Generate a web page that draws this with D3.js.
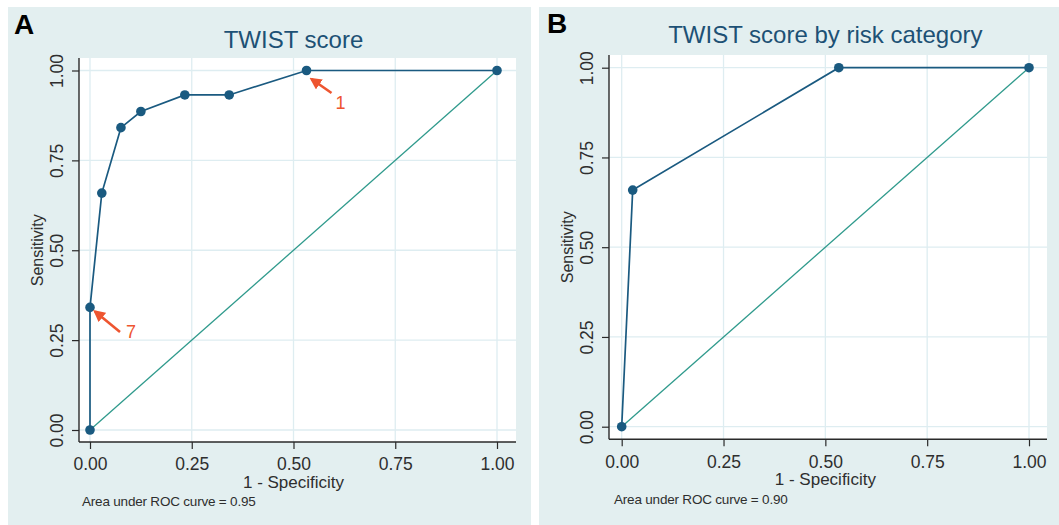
<!DOCTYPE html>
<html>
<head>
<meta charset="utf-8">
<script src="https://cdn.jsdelivr.net/npm/d3@7"></script>
<style>
  html, body { margin: 0; padding: 0; background: #ffffff; }
  svg { display: block; }
  text { font-family: "Liberation Sans", Arial, Helvetica, sans-serif; }
</style>
</head>
<body>
<svg id="chart" width="1059" height="525"></svg>
<script>
// ---------- data ----------
const panelLetters = ["A", "B"];
const titles = ["TWIST score", "TWIST score by risk category"];
const aucLabels = ["Area under ROC curve = 0.95", "Area under ROC curve = 0.90"];
const xAxisTitle = "1 - Specificity";
const yAxisTitle = "Sensitivity";
const tickValues = [0, 0.25, 0.5, 0.75, 1];
const tickLabels = ["0.00", "0.25", "0.50", "0.75", "1.00"];

// Panel A: TWIST score ROC (1 - specificity, sensitivity)
const fprA = [0, 0, 0.029, 0.076, 0.125, 0.233, 0.342, 0.532, 1];
const tprA = [0, 0.341, 0.659, 0.841, 0.886, 0.932, 0.932, 1, 1];
// Panel B: TWIST score by risk category
const fprB = [0, 0.027, 0.533, 1];
const tprB = [0, 0.659, 1, 1];
// Reference diagonal
const refLine = [0, 1];

// annotations in panel A: point index + label
const annotPointIndex = [7, 1];
const annotLabels = ["1", "7"];

// ---------- styles / layout ----------
const C = {
  panelBg: "#e3eff0",
  plotBg: "#ffffff",
  grid: "#deedf1",
  axis: "#2a2a2a",
  text: "#2e2e2e",
  title: "#1d5175",
  curve: "#1a5a80",
  diag: "#2f9a8c",
  arrow: "#ee5530"
};

const layouts = [
  { bg: {x: 8, y: 7, w: 523, h: 518}, plot: {l: 79, t: 58, r: 516, b: 442},
    xr: [90, 497], yr: [430, 70.5], titleY: 48, letterX: 14, letterY: 33.5, aucX: 82, aucY: 506 },
  { bg: {x: 539, y: 7, w: 520, h: 518}, plot: {l: 609, t: 55, r: 1047, b: 439.3},
    xr: [621.7, 1029], yr: [426.7, 67.7], titleY: 42.5, letterX: 547, letterY: 32.5, aucX: 614, aucY: 504 }
];

const series = [
  { fpr: fprA, tpr: tprA },
  { fpr: fprB, tpr: tprB }
];

const svg = d3.select("#chart");

const defs = svg.append("defs");
defs.append("marker")
  .attr("id", "arrowhead")
  .attr("viewBox", "0 0 10 10")
  .attr("refX", 8).attr("refY", 5)
  .attr("markerWidth", 4.6).attr("markerHeight", 4.6)
  .attr("orient", "auto-start-reverse")
  .append("path")
  .attr("d", "M0,0 L10,5 L0,10 z")
  .attr("fill", C.arrow);

layouts.forEach((L, i) => {
  const g = svg.append("g");
  const x = d3.scaleLinear().domain([0, 1]).range(L.xr);
  const y = d3.scaleLinear().domain([0, 1]).range(L.yr);
  const P = L.plot;

  // panel background
  g.append("rect").attr("x", L.bg.x).attr("y", L.bg.y)
    .attr("width", L.bg.w).attr("height", L.bg.h).attr("fill", C.panelBg);
  // plot area
  g.append("rect").attr("x", P.l).attr("y", P.t)
    .attr("width", P.r - P.l).attr("height", P.b - P.t).attr("fill", C.plotBg);

  // grid
  g.append("g").selectAll("line.v").data(tickValues).join("line")
    .attr("x1", d => x(d)).attr("x2", d => x(d))
    .attr("y1", P.t).attr("y2", P.b)
    .attr("stroke", C.grid).attr("stroke-width", 1.3);
  g.append("g").selectAll("line.h").data(tickValues).join("line")
    .attr("y1", d => y(d)).attr("y2", d => y(d))
    .attr("x1", P.l).attr("x2", P.r)
    .attr("stroke", C.grid).attr("stroke-width", 1.3);

  // axes (ticks via d3 axis)
  const fmt = (d) => tickLabels[tickValues.indexOf(d)];
  const yAxis = g.append("g").attr("transform", `translate(${P.l},0)`)
    .call(d3.axisLeft(y).tickValues(tickValues).tickFormat(fmt).tickSize(7).tickSizeOuter(0));
  yAxis.select(".domain").remove();
  yAxis.selectAll(".tick line").attr("stroke", C.axis).attr("stroke-width", 1.2);
  yAxis.selectAll(".tick text")
    .attr("x", 0).attr("y", 0).attr("dy", null)
    .attr("transform", "translate(-16.5,0) rotate(-90)")
    .attr("text-anchor", "middle")
    .attr("font-size", 17.5)
    .attr("fill", C.text);

  const xAxis = g.append("g").attr("transform", `translate(0,${P.b})`)
    .call(d3.axisBottom(x).tickValues(tickValues).tickFormat(fmt).tickSize(7).tickSizeOuter(0));
  xAxis.select(".domain").remove();
  xAxis.selectAll(".tick line").attr("stroke", C.axis).attr("stroke-width", 1.2);
  xAxis.selectAll(".tick text")
    .attr("y", 28.3).attr("dy", null)
    .attr("font-size", 17.5)
    .attr("fill", C.text);

  // axis lines
  g.append("line").attr("x1", P.l).attr("x2", P.l).attr("y1", P.t).attr("y2", P.b)
    .attr("stroke", C.axis).attr("stroke-width", 1.4);
  g.append("line").attr("x1", P.l).attr("x2", P.r).attr("y1", P.b).attr("y2", P.b)
    .attr("stroke", C.axis).attr("stroke-width", 1.4);

  // axis titles
  g.append("text").attr("x", (L.xr[0] + L.xr[1]) / 2).attr("y", P.b + 45.5)
    .attr("text-anchor", "middle").attr("font-size", 17).attr("fill", C.text)
    .text(xAxisTitle);
  g.append("text")
    .attr("transform", `translate(${P.l - 36},${(L.yr[0] + L.yr[1]) / 2}) rotate(-90)`)
    .attr("text-anchor", "middle").attr("font-size", 16).attr("fill", C.text)
    .text(yAxisTitle);

  // title
  g.append("text").attr("x", (L.xr[0] + L.xr[1]) / 2).attr("y", L.titleY)
    .attr("text-anchor", "middle").attr("font-size", 24).attr("fill", C.title)
    .text(titles[i]);

  // panel letter
  g.append("text").attr("x", L.letterX).attr("y", L.letterY)
    .attr("font-size", 28).attr("font-weight", "bold").attr("fill", "#000")
    .text(panelLetters[i]);

  // AUC note
  g.append("text").attr("x", L.aucX).attr("y", L.aucY)
    .attr("font-size", 13.5).attr("fill", C.text).attr("letter-spacing", -0.2)
    .text(aucLabels[i]);

  // reference diagonal
  g.append("path")
    .datum(refLine)
    .attr("d", d3.line().x(d => x(d)).y(d => y(d)))
    .attr("fill", "none").attr("stroke", C.diag).attr("stroke-width", 1.3);

  // ROC curve
  const s = series[i];
  const pts = s.fpr.map((f, k) => [f, s.tpr[k]]);
  g.append("path").datum(pts)
    .attr("d", d3.line().x(d => x(d[0])).y(d => y(d[1])))
    .attr("fill", "none").attr("stroke", C.curve).attr("stroke-width", 1.7);
  g.append("g").selectAll("circle").data(pts).join("circle")
    .attr("cx", d => x(d[0])).attr("cy", d => y(d[1])).attr("r", 4.8)
    .attr("fill", C.curve);

  // annotations (panel A only)
  if (i === 0) {
    const offsets = [
      { tip: [5, 8.5], tail: [25, 22.5], lab: [34, 38.5] },
      { tip: [5, 4], tail: [30, 24.5], lab: [41, 31] }
    ];
    annotPointIndex.forEach((pi, a) => {
      const px = x(pts[pi][0]), py = y(pts[pi][1]);
      const o = offsets[a];
      g.append("line")
        .attr("x1", px + o.tail[0]).attr("y1", py + o.tail[1])
        .attr("x2", px + o.tip[0]).attr("y2", py + o.tip[1])
        .attr("stroke", C.arrow).attr("stroke-width", 2.6)
        .attr("marker-end", "url(#arrowhead)");
      g.append("text").attr("x", px + o.lab[0]).attr("y", py + o.lab[1])
        .attr("text-anchor", "middle").attr("font-size", 18).attr("fill", C.arrow)
        .text(annotLabels[a]);
    });
  }
});
</script>
</body>
</html>
